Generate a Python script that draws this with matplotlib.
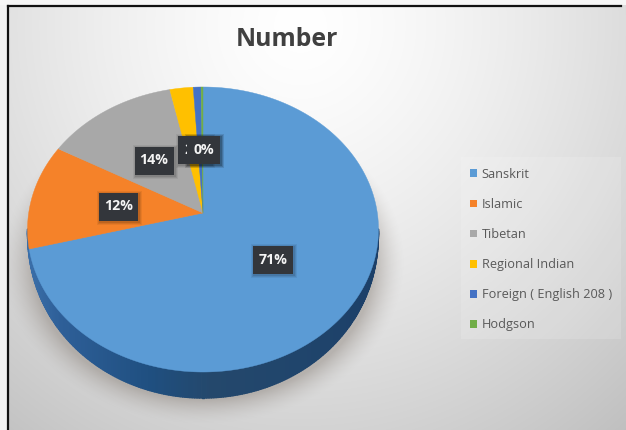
import numpy as np
import matplotlib
matplotlib.use("Agg")
import matplotlib.pyplot as plt
from matplotlib.collections import PolyCollection
from matplotlib.patches import Polygon, Rectangle
from matplotlib.colors import to_rgb

categories = ["Sanskrit", "Islamic", "Tibetan", "Regional Indian",
              "Foreign ( English 208 )", "Hodgson"]
shares = [71.0, 12.0, 13.6, 2.4, 0.8, 0.2]
colors = ["#5B9BD5", "#F58229", "#A8A8A8", "#FFC000", "#4472C4", "#70AD47"]
chart_title = "Number"

W, H = 626, 430
plt.rcParams["font.family"] = ["Open Sans", "DejaVu Sans"]

fig = plt.figure(figsize=(W / 100, H / 100), dpi=100)
ax = fig.add_axes([0, 0, 1, 1])
ax.set_xlim(0, W)
ax.set_ylim(H, 0)
ax.axis("off")

# Tilted-disc projection: the hub sits above the middle of the rim ellipse.
HUB_X, HUB_Y = 203.0, 213.0
TILT, SCALE_X, SCALE_Y = 0.1158, 174.3, 140.6
DEPTH = 26.0
HALF_WIDTH = 175.6


def rim(frac):
    """Screen position of the rim at a clockwise fraction from twelve o'clock."""
    t = 2 * np.pi * np.asarray(frac)
    w = 1 + TILT * np.cos(t)
    return HUB_X + SCALE_X * np.sin(t) / w, HUB_Y - SCALE_Y * np.cos(t) / w


# Page background: soft white glow at the top fading to grey.
yy, xx = np.mgrid[0:H, 0:W]
dist = np.hypot((xx - 300) / 480.0, (yy - 25) / 500.0)
level = np.clip(1.0 - 0.23 * dist ** 1.4, 0, 1)
ax.imshow(np.dstack([level] * 3), extent=(0, W, H, 0), aspect="auto", zorder=0)
ax.set_xlim(0, W)
ax.set_ylim(H, 0)

# Soft shadow falling below the disc.
d = (np.hypot((xx - HUB_X) / 178.0, (yy - 262.0) / 143.0) - 1) * 150
shadow_alpha = 0.5 * np.clip(1 - (d + 6) / 26.0, 0, 1) ** 1.6
shadow = np.zeros((H, W, 4))
shadow[..., :3] = to_rgb("#8f8780")
shadow[..., 3] = shadow_alpha
ax.imshow(shadow, extent=(0, W, H, 0), aspect="auto", zorder=1)

# Frame lines along the top and left of the sheet.
ax.add_patch(Rectangle((0, 0), 7, H, color="#f2f2f2", lw=0, zorder=1.5))
ax.add_patch(Rectangle((0, 0), W, 5, color="#f6f6f6", lw=0, zorder=1.5))
ax.plot([8, 8], [H, 5.5], color="#111111", lw=1.6, zorder=2)
ax.plot([8, 621], [5.5, 5.5], color="#111111", lw=1.6, zorder=2)

# Lighter panel behind the legend.
ax.add_patch(Rectangle((461, 157), 160, 182, color="white", alpha=0.14, lw=0, zorder=2))

# Cylinder wall, darkened from left to right and tapering towards the sides.
bounds = np.concatenate([[0], np.cumsum(shares)]) / np.sum(shares)
front = np.linspace(0.268, 0.732, 240)
fx, fy = rim(front)
taper = np.clip(1 - ((fx - HUB_X) / HALF_WIDTH) ** 2, 0, 1) ** 0.3
fd = DEPTH * taper
quads, quad_cols = [], []
wall_x = [30, 60, 150, 210, 300, 378]
wall_rgb = np.array([to_rgb(c) for c in
                     ["#3a6ea8", "#2e5f98", "#1f4f80", "#24486c", "#20456c", "#1c3f68"]])
for i in range(len(front) - 1):
    quads.append([(fx[i], fy[i]), (fx[i + 1], fy[i + 1]),
                  (fx[i + 1], fy[i + 1] + fd[i + 1]), (fx[i], fy[i] + fd[i])])
    mid = 0.5 * (fx[i] + fx[i + 1])
    quad_cols.append([np.interp(mid, wall_x, wall_rgb[:, k]) for k in range(3)])
ax.add_collection(PolyCollection(quads, facecolors=quad_cols, edgecolors=quad_cols,
                                 linewidths=1.0, zorder=3))

# Top face of the pie, one wedge per category.
for start, end, col in zip(bounds[:-1], bounds[1:], colors):
    fr = np.linspace(start, end, max(int((end - start) * 400), 4))
    rx, ry = rim(fr)
    pts = np.column_stack([np.r_[HUB_X, rx], np.r_[HUB_Y, ry]])
    ax.add_patch(Polygon(pts, closed=True, facecolor=col, edgecolor=col, lw=0.3, zorder=4))

# Data labels; the three smallest slices share one crowded spot, later ones on top.
label_pos = [(273, 260), (118.5, 206.5), (154, 160.5), (194.5, 150), (203.5, 150), (203.5, 150)]
label_widths = [40, 39, 39, 33, 33, 33]
for (lx, ly), bw in zip(label_pos, label_widths):
    for off, alpha in ((3.0, 0.06), (2.0, 0.08), (1.0, 0.10)):
        ax.add_patch(Rectangle((lx - bw / 2 - off + 1, ly - 14 - off + 1), bw + 2 * off,
                               28 + 2 * off, color="black", alpha=alpha, lw=0, zorder=5))
for i, (share, (lx, ly), bw) in enumerate(zip(shares, label_pos, label_widths)):
    ax.add_patch(Rectangle((lx - bw / 2, ly - 14), bw, 28, color="#33363b", lw=0,
                           zorder=5.1 + 0.02 * i))
    ax.text(lx, ly, f"{share / np.sum(shares) * 100:.0f}%", color="#f4f4f4", fontsize=10.2,
            fontweight="bold", ha="center", va="center", zorder=5.11 + 0.02 * i)

ax.text(287, 40, chart_title, fontsize=17.8, fontweight="bold", color="#404040",
        ha="center", va="center", zorder=6)

handles = [Rectangle((0, 0), 1, 1, color=c, lw=0) for c in colors]
leg = ax.legend(handles, categories, loc="upper left",
                bbox_to_anchor=(466, 164), bbox_transform=ax.transData,
                frameon=False, fontsize=9.2, labelcolor="#595959",
                handlelength=0.55, handleheight=0.55, handletextpad=0.38,
                labelspacing=1.34, borderpad=0.3, borderaxespad=0)
leg.set_zorder(6)

fig.savefig("out.png", dpi=100)
